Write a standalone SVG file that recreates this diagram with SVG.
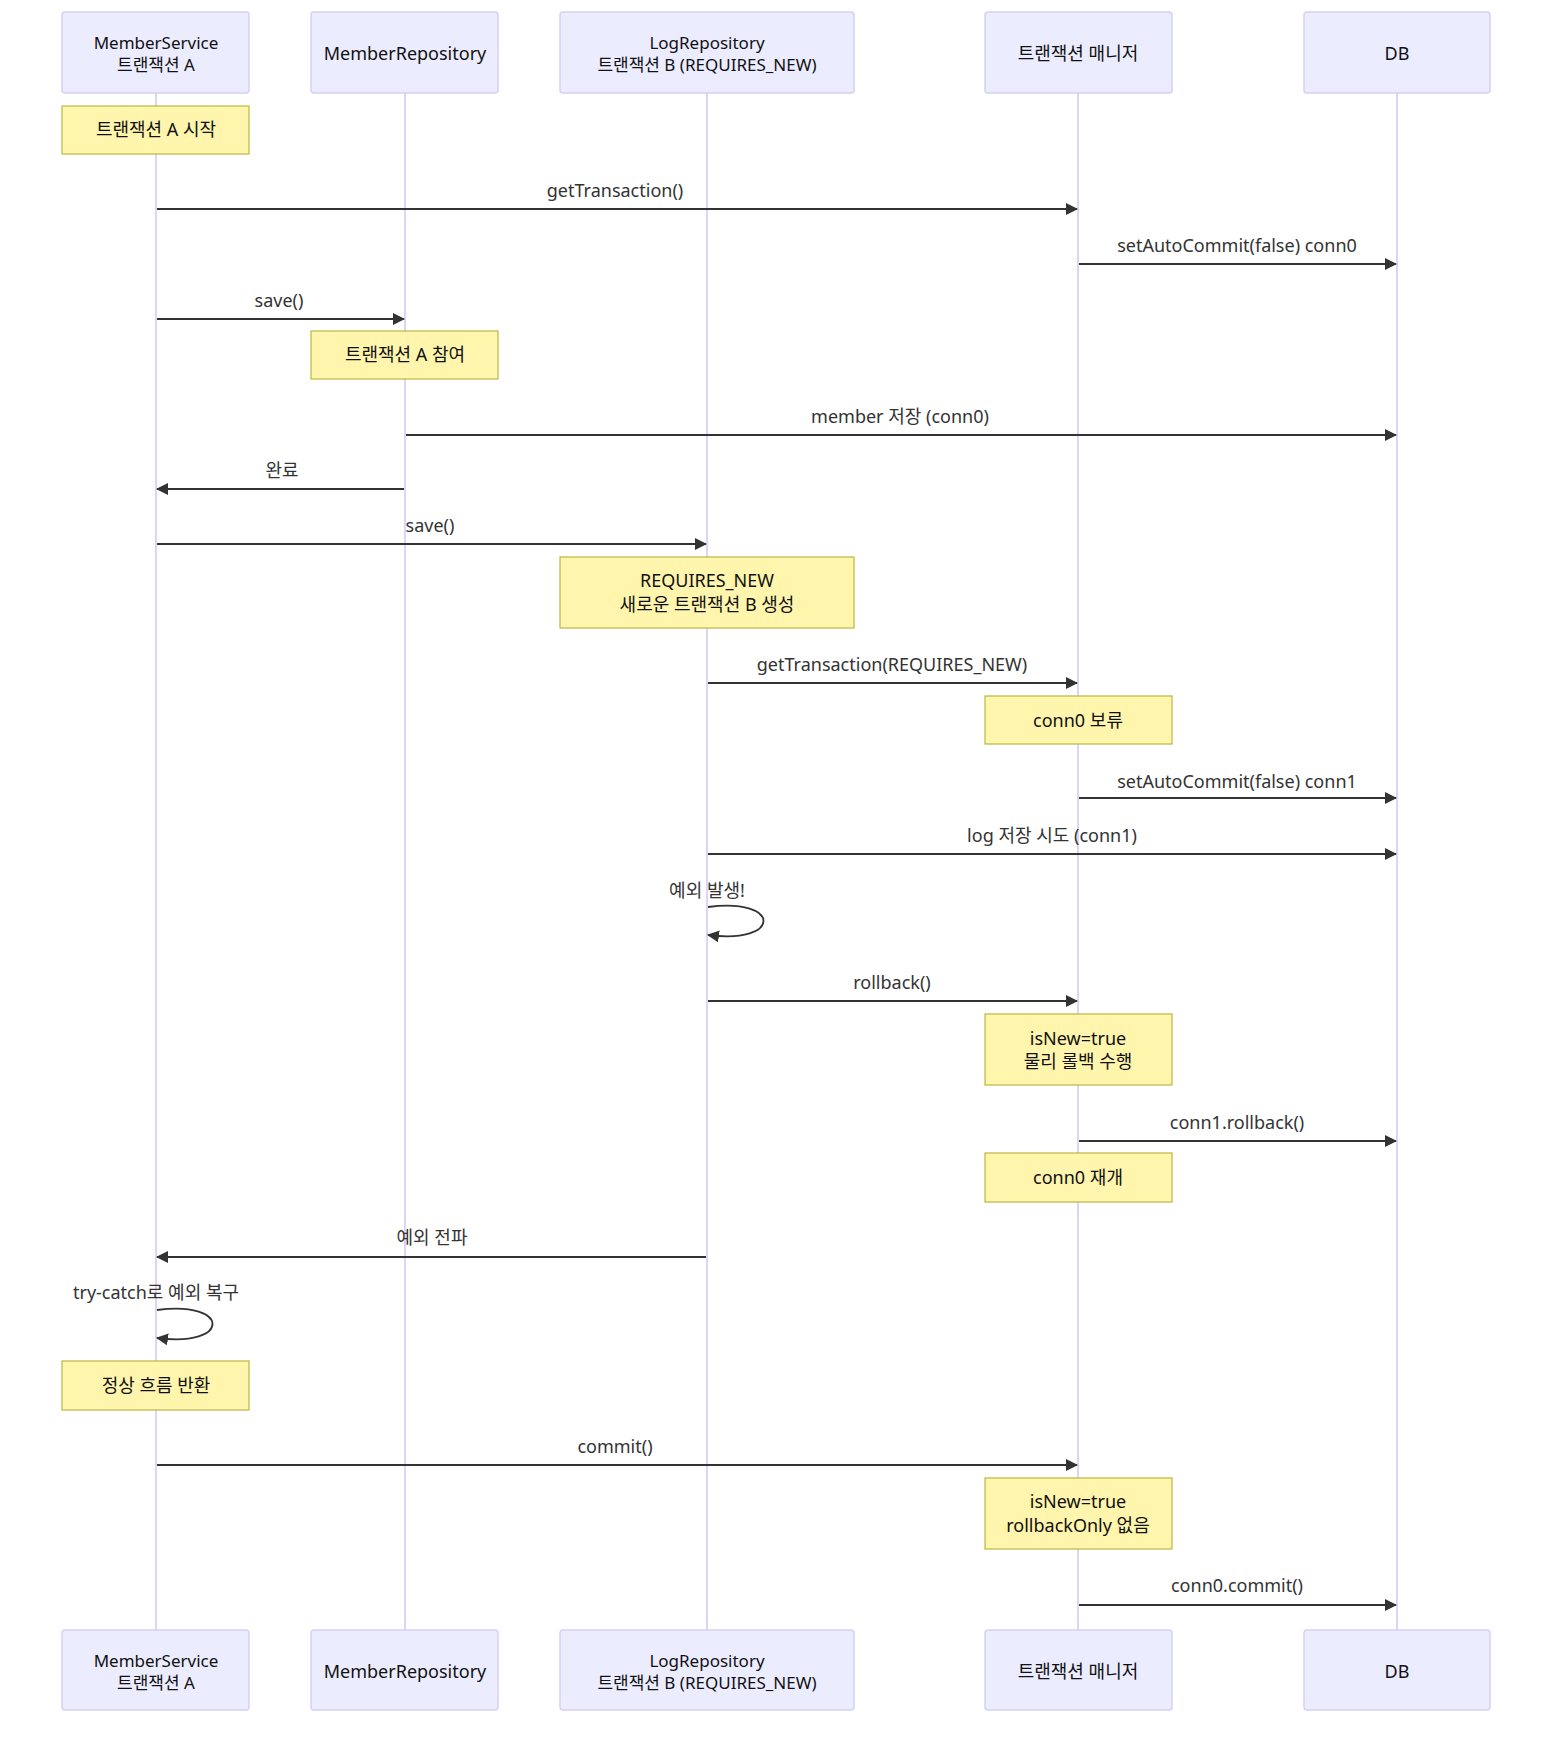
<svg xmlns="http://www.w3.org/2000/svg" width="1568" height="1742" viewBox="0 0 1568 1742">
<style>
text{font-family:"Noto Sans","Noto Sans CJK KR",sans-serif;font-size:18px;fill:#111;text-anchor:middle}
.two{font-size:17px}
.actor{fill:#ececff;stroke:#d6d0f5;stroke-width:1.5}
.life{stroke:#dcd5f6;stroke-width:2}
.note{fill:#fff5ad;stroke:#b8b840;stroke-width:1.2}
.msg{stroke:#333;stroke-width:1.8;fill:none}
.lbl{fill:#333}
</style>
<defs>
<marker id="ah" viewBox="0 0 12 12" refX="11" refY="6" markerWidth="12" markerHeight="12" markerUnits="userSpaceOnUse" orient="auto">
<path d="M0,0 L12,6 L0,12 z" fill="#333"/>
</marker>
</defs>
<rect width="1568" height="1742" fill="#fff"/>
<g id="lifelines">
<line class="life" x1="156" y1="93" x2="156" y2="1630"/>
<line class="life" x1="405" y1="93" x2="405" y2="1630"/>
<line class="life" x1="707" y1="93" x2="707" y2="1630"/>
<line class="life" x1="1078" y1="93" x2="1078" y2="1630"/>
<line class="life" x1="1397" y1="93" x2="1397" y2="1630"/>
</g>
<g id="actor-ms"><rect class="actor" x="62" y="12" width="187" height="81" rx="3"/><text class="two" x="156" y="49">MemberService</text><text class="two" x="156" y="71">트랜잭션 A</text></g>
<g id="actor-mr"><rect class="actor" x="311" y="12" width="187" height="81" rx="3"/><text x="405" y="60">MemberRepository</text></g>
<g id="actor-lr"><rect class="actor" x="560" y="12" width="294" height="81" rx="3"/><text class="two" x="707" y="49">LogRepository</text><text class="two" x="707" y="71">트랜잭션 B (REQUIRES_NEW)</text></g>
<g id="actor-tm"><rect class="actor" x="985" y="12" width="187" height="81" rx="3"/><text x="1078" y="60">트랜잭션 매니저</text></g>
<g id="actor-db"><rect class="actor" x="1304" y="12" width="186" height="81" rx="3"/><text x="1397" y="60">DB</text></g>
<g id="actor-ms-b"><rect class="actor" x="62" y="1630" width="187" height="80" rx="3"/><text class="two" x="156" y="1667">MemberService</text><text class="two" x="156" y="1689">트랜잭션 A</text></g>
<g id="actor-mr-b"><rect class="actor" x="311" y="1630" width="187" height="80" rx="3"/><text x="405" y="1678">MemberRepository</text></g>
<g id="actor-lr-b"><rect class="actor" x="560" y="1630" width="294" height="80" rx="3"/><text class="two" x="707" y="1667">LogRepository</text><text class="two" x="707" y="1689">트랜잭션 B (REQUIRES_NEW)</text></g>
<g id="actor-tm-b"><rect class="actor" x="985" y="1630" width="187" height="80" rx="3"/><text x="1078" y="1678">트랜잭션 매니저</text></g>
<g id="actor-db-b"><rect class="actor" x="1304" y="1630" width="186" height="80" rx="3"/><text x="1397" y="1678">DB</text></g>

<g id="note1"><rect class="note" x="62" y="106" width="187" height="48"/><text x="156" y="136">트랜잭션 A 시작</text></g>
<g id="note2"><rect class="note" x="311" y="331" width="187" height="48"/><text x="405" y="361">트랜잭션 A 참여</text></g>
<g id="note3"><rect class="note" x="560" y="557" width="294" height="71"/><text x="707" y="587">REQUIRES_NEW</text><text x="707" y="611">새로운 트랜잭션 B 생성</text></g>
<g id="note4"><rect class="note" x="985" y="696" width="187" height="48"/><text x="1078" y="727">conn0 보류</text></g>
<g id="note5"><rect class="note" x="985" y="1014" width="187" height="71"/><text x="1078" y="1045">isNew=true</text><text x="1078" y="1068">물리 롤백 수행</text></g>
<g id="note6"><rect class="note" x="985" y="1153" width="187" height="49"/><text x="1078" y="1184">conn0 재개</text></g>
<g id="note7"><rect class="note" x="62" y="1361" width="187" height="49"/><text x="156" y="1392">정상 흐름 반환</text></g>
<g id="note8"><rect class="note" x="985" y="1478" width="187" height="71"/><text x="1078" y="1508">isNew=true</text><text x="1078" y="1532">rollbackOnly 없음</text></g>

<g id="connectors">
<line class="msg" marker-end="url(#ah)" x1="157" y1="209" x2="1077" y2="209"/>
<line class="msg" marker-end="url(#ah)" x1="1079" y1="264" x2="1396" y2="264"/>
<line class="msg" marker-end="url(#ah)" x1="157" y1="319" x2="404" y2="319"/>
<line class="msg" marker-end="url(#ah)" x1="406" y1="435" x2="1396" y2="435"/>
<line class="msg" marker-end="url(#ah)" x1="404" y1="489" x2="157" y2="489"/>
<line class="msg" marker-end="url(#ah)" x1="157" y1="544" x2="706" y2="544"/>
<line class="msg" marker-end="url(#ah)" x1="708" y1="683" x2="1077" y2="683"/>
<line class="msg" marker-end="url(#ah)" x1="1079" y1="798" x2="1396" y2="798"/>
<line class="msg" marker-end="url(#ah)" x1="708" y1="854" x2="1396" y2="854"/>
<path class="msg" marker-end="url(#ah)" d="M708,907 C782,897 782,945 708,935"/>
<line class="msg" marker-end="url(#ah)" x1="708" y1="1001" x2="1077" y2="1001"/>
<line class="msg" marker-end="url(#ah)" x1="1079" y1="1141" x2="1396" y2="1141"/>
<line class="msg" marker-end="url(#ah)" x1="706" y1="1257" x2="157" y2="1257"/>
<path class="msg" marker-end="url(#ah)" d="M157,1310 C231,1300 231,1348 157,1338"/>
<line class="msg" marker-end="url(#ah)" x1="157" y1="1465" x2="1077" y2="1465"/>
<line class="msg" marker-end="url(#ah)" x1="1079" y1="1605" x2="1396" y2="1605"/>
</g>
<g id="labels">
<text class="lbl" x="615" y="197">getTransaction()</text>
<text class="lbl" x="1237" y="252">setAutoCommit(false) conn0</text>
<text class="lbl" x="279" y="307">save()</text>
<text class="lbl" x="900" y="423">member 저장 (conn0)</text>
<text class="lbl" x="282" y="477">완료</text>
<text class="lbl" x="430" y="532">save()</text>
<text class="lbl" x="892" y="671">getTransaction(REQUIRES_NEW)</text>
<text class="lbl" x="1237" y="788">setAutoCommit(false) conn1</text>
<text class="lbl" x="1052" y="842">log 저장 시도 (conn1)</text>
<text class="lbl" x="707" y="897">예외 발생!</text>
<text class="lbl" x="892" y="989">rollback()</text>
<text class="lbl" x="1237" y="1129">conn1.rollback()</text>
<text class="lbl" x="432" y="1244">예외 전파</text>
<text class="lbl" x="156" y="1299">try-catch로 예외 복구</text>
<text class="lbl" x="615" y="1453">commit()</text>
<text class="lbl" x="1237" y="1592">conn0.commit()</text>
</g>
</svg>
